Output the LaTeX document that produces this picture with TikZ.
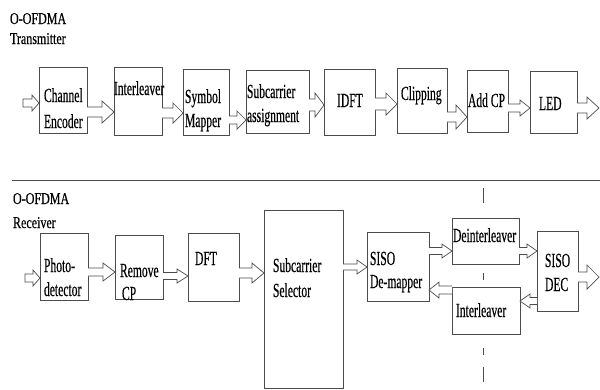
\documentclass[tikz,border=0pt]{standalone}
\usepackage{fontspec}
\setmainfont[FakeStretch=0.73,FakeBold=0.4]{Liberation Serif}
\newfontfamily\boxfont[FakeStretch=0.58,FakeBold=0.4]{Liberation Serif}
\usetikzlibrary{calc}
\tikzset{
  box/.style={draw=black!70, line width=0.8pt, fill=white, inner sep=0pt, outer sep=0pt, anchor=north west},
  txt/.style={anchor=base west, inner sep=0pt, outer sep=0pt, font=\boxfont\fontsize{20}{24}\selectfont, text=black},
  ttl/.style={anchor=base west, inner sep=0pt, outer sep=0pt, font=\fontsize{16.5}{19}\selectfont, text=black},
  arr/.style={draw=black!70, line width=0.7pt, fill=white, line join=miter},
  rule/.style={draw=black!70, line width=0.8pt},
}
\newcommand\rarrow[6]{\draw[arr] let \p1=(#1), \p2=(#2), \p3=(0,#3) in
  (\x1,\y3+#4pt) -- (\x2-#6pt,\y3+#4pt) -- (\x2-#6pt,\y3+#5pt) -- (\x2,\y3)
  -- (\x2-#6pt,\y3-#5pt) -- (\x2-#6pt,\y3-#4pt) -- (\x1,\y3-#4pt);}
\newcommand\rarrowc[6]{\draw[arr] let \p1=(#1), \p2=(#2), \p3=(0,#3) in
  (\x1,\y3+#4pt) -- (\x2-#6pt,\y3+#4pt) -- (\x2-#6pt,\y3+#5pt) -- (\x2,\y3)
  -- (\x2-#6pt,\y3-#5pt) -- (\x2-#6pt,\y3-#4pt) -- (\x1,\y3-#4pt) -- cycle;}
\newcommand\larrow[6]{\draw[arr] let \p1=(#1), \p2=(#2), \p3=(0,#3) in
  (\x1,\y3+#4pt) -- (\x2+#6pt,\y3+#4pt) -- (\x2+#6pt,\y3+#5pt) -- (\x2,\y3)
  -- (\x2+#6pt,\y3-#5pt) -- (\x2+#6pt,\y3-#4pt) -- (\x1,\y3-#4pt);}
\begin{document}
\begin{tikzpicture}[x=1pt,y=-1pt]
\useasboundingbox (0,0) rectangle (600,389);
% titles
\node[ttl] (t1) at (10,24) {O-OFDMA};
\node[ttl] (t2) at (10,44) {Transmitter};
\node[ttl] (r1) at (13,204) {O-OFDMA};
\node[ttl] (r2) at (13,228) {Receiver};
% separator and dashed line
\draw[rule] (12,180) -- (600,180);
\draw[rule, line width=0.7pt, dash pattern=on 15pt off 70pt on 7pt off 68pt on 7pt off 12pt on 15pt] (483,188) -- (483,382);
% transmitter boxes
\node[box, minimum width=48pt, minimum height=66pt] (ce) at (39,67) {};
\node[box, minimum width=48pt, minimum height=68pt] (il) at (114,67) {};
\node[box, minimum width=46pt, minimum height=66pt] (sm) at (183,69) {};
\node[box, minimum width=63pt, minimum height=63pt] (sa) at (246,70) {};
\node[box, minimum width=51pt, minimum height=66pt] (idft) at (324,69) {};
\node[box, minimum width=50pt, minimum height=65pt] (clip) at (397,68) {};
\node[box, minimum width=41pt, minimum height=62pt] (acp) at (467,70) {};
\node[box, minimum width=47pt, minimum height=62pt] (led) at (530,71) {};
% transmitter texts
\node[txt] (ce1) at (44,102) {Channel};
\node[txt] (ce2) at (44,128) {Encoder};
\node[txt] (il1) at (114,95) {Interleaver};
\node[txt] (sm1) at (185,103) {Symbol};
\node[txt] (sm2) at (185,127) {Mapper};
\node[txt] (sa1) at (247,98) {Subcarrier};
\node[txt] (sa2) at (247,122) {assignment};
\node[txt] (idft1) at (337,107) {IDFT};
\node[txt] (clip1) at (401,100) {Clipping};
\node[txt] (acp1) at (468,107) {Add CP};
\node[txt] (led1) at (539,110) {LED};
% receiver boxes
\node[box, minimum width=48pt, minimum height=67pt] (pd) at (40,233) {};
\node[box, minimum width=48pt, minimum height=64pt] (rcp) at (115,235) {};
\node[box, minimum width=51pt, minimum height=68pt] (dft) at (188,233) {};
\node[box, minimum width=79pt, minimum height=178pt] (ss) at (264,210) {};
\node[box, minimum width=62pt, minimum height=69pt] (dm) at (367,232) {};
\node[box, minimum width=67pt, minimum height=46pt] (dil) at (452,218) {};
\node[box, minimum width=68pt, minimum height=47pt] (ril) at (452,287) {};
\node[box, minimum width=41pt, minimum height=80pt] (dec) at (537,231) {};
% receiver texts
\node[txt] (pd1) at (44,272) {Photo-};
\node[txt] (pd2) at (44,296) {detector};
\node[txt] (rcp1) at (120,277) {Remove};
\node[txt] (rcp2) at (122,300) {CP};
\node[txt] (dft1) at (195,265) {DFT};
\node[txt] (ss1) at (273,272) {Subcarrier};
\node[txt] (ss2) at (273,297) {Selector};
\node[txt] (dm1) at (370,265) {SISO};
\node[txt] (dm2) at (370,288) {De-mapper};
\node[txt] (dil1) at (453,242) {Deinterleaver};
\node[txt] (ril1) at (456,317) {Interleaver};
\node[txt] (dec1) at (545,267) {SISO};
\node[txt] (dec2) at (545,291) {DEC};
% free ends
\coordinate (tin) at (23,103);
\coordinate (tout) at (599,108);
\coordinate (rin) at (25,278);
\coordinate (rout) at (599,277);
% transmitter arrows
\rarrowc{tin}{ce.west}{103}{4}{8}{7}
\rarrow{ce.east}{il.west}{112}{5}{11}{12}
\rarrow{il.east}{sm.west}{113}{5}{10}{10}
\rarrow{sm.east}{sa.west}{120}{4}{9}{9}
\rarrow{sa.east}{idft.west}{105}{6}{12}{9}
\rarrow{idft.east}{clip.west}{104}{6}{11}{11}
\rarrow{clip.east}{acp.west}{117}{5}{12}{11}
\rarrow{acp.east}{led.west}{108}{4}{8}{10}
\rarrow{led.east}{tout}{108}{5}{11}{12}
% receiver arrows
\rarrowc{rin}{pd.west}{278}{4}{8}{7}
\rarrow{pd.east}{rcp.west}{272}{4}{9}{12}
\rarrow{rcp.east}{dft.west}{276}{3.5}{7}{11}
\rarrow{dft.east}{ss.west}{273}{5}{10}{12}
\rarrow{ss.east}{dm.west}{267}{3}{7}{10}
\rarrow{dm.east}{dil.west}{251}{3.5}{7}{10}
\rarrow{dil.east}{dec.west}{251}{3.5}{7}{10}
\rarrow{dec.east}{rout}{277}{5}{12}{12}
\larrow{dec.west}{ril.east}{301}{3.5}{7}{10}
\larrow{ril.west}{dm.east}{290}{4}{8}{10}
\end{tikzpicture}
\end{document}
